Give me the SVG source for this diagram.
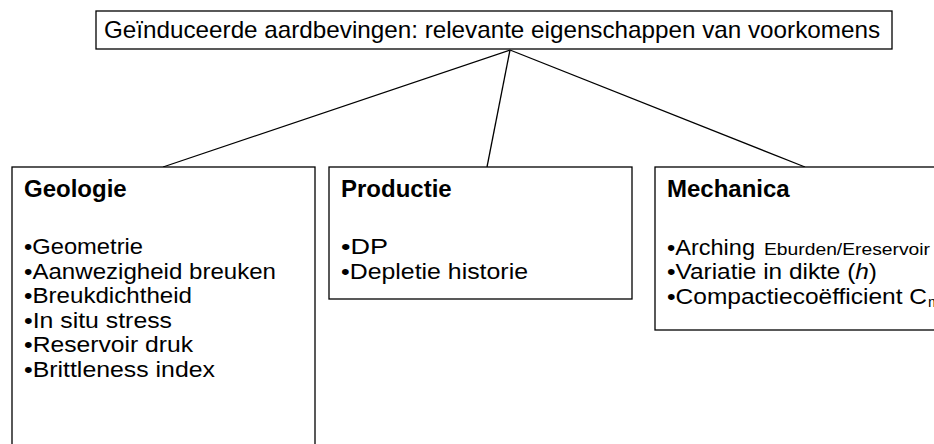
<svg xmlns="http://www.w3.org/2000/svg" width="934" height="444" viewBox="0 0 934 444">
<style>
.box{fill:#fff;stroke:#000;stroke-width:1.3}
.t{font-family:"Liberation Sans",Arial,sans-serif;fill:#000}
.h{font-weight:bold;font-size:24px}
.i{font-size:21.5px}
.c{stroke:#000;stroke-width:1.3;fill:none}
</style>
<rect width="934" height="444" fill="#fff"/>
<g id="connectors">
<line class="c" x1="510" y1="50" x2="163" y2="167"/>
<line class="c" x1="510" y1="50" x2="487" y2="167"/>
<line class="c" x1="510" y1="50" x2="805" y2="167"/>
</g>
<g id="top">
<rect class="box" x="96" y="11" width="796" height="38"/>
<text class="t" x="104" y="38" font-size="24" textLength="776" lengthAdjust="spacingAndGlyphs">Geïnduceerde aardbevingen: relevante eigenschappen van voorkomens</text>
</g>
<g id="geologie">
<rect class="box" x="12" y="167" width="303" height="290"/>
<text class="t h" x="24" y="197">Geologie</text>
<text class="t i" x="24" y="254" textLength="119" lengthAdjust="spacingAndGlyphs">•Geometrie</text>
<text class="t i" x="24" y="278.5" textLength="252" lengthAdjust="spacingAndGlyphs">•Aanwezigheid breuken</text>
<text class="t i" x="24" y="303" textLength="168" lengthAdjust="spacingAndGlyphs">•Breukdichtheid</text>
<text class="t i" x="24" y="327.5" textLength="148" lengthAdjust="spacingAndGlyphs">•In situ stress</text>
<text class="t i" x="24" y="352" textLength="169" lengthAdjust="spacingAndGlyphs">•Reservoir druk</text>
<text class="t i" x="24" y="376.5" textLength="191" lengthAdjust="spacingAndGlyphs">•Brittleness index</text>
</g>
<g id="productie">
<rect class="box" x="329" y="167" width="303" height="132"/>
<text class="t h" x="341" y="197">Productie</text>
<text class="t i" x="341" y="254" textLength="47" lengthAdjust="spacingAndGlyphs">•DP</text>
<text class="t i" x="341" y="278.5" textLength="187" lengthAdjust="spacingAndGlyphs">•Depletie historie</text>
</g>
<g id="mechanica">
<rect class="box" x="655" y="167" width="300" height="163"/>
<text class="t h" x="667" y="197">Mechanica</text>
<text class="t i" x="667" y="254.5" font-size="23" textLength="88" lengthAdjust="spacingAndGlyphs">•Arching</text>
<text class="t" x="764" y="254.5" font-size="17" textLength="166" lengthAdjust="spacingAndGlyphs">Eburden/Ereservoir</text>
<text class="t i" x="667" y="279" textLength="210" lengthAdjust="spacingAndGlyphs">•Variatie in dikte (<tspan font-style="italic">h</tspan>)</text>
<text class="t i" x="667" y="303.5" textLength="260" lengthAdjust="spacingAndGlyphs">•Compactiecoëfficient C</text>
<text class="t" x="928" y="307" font-size="15">m</text>
</g>
</svg>
